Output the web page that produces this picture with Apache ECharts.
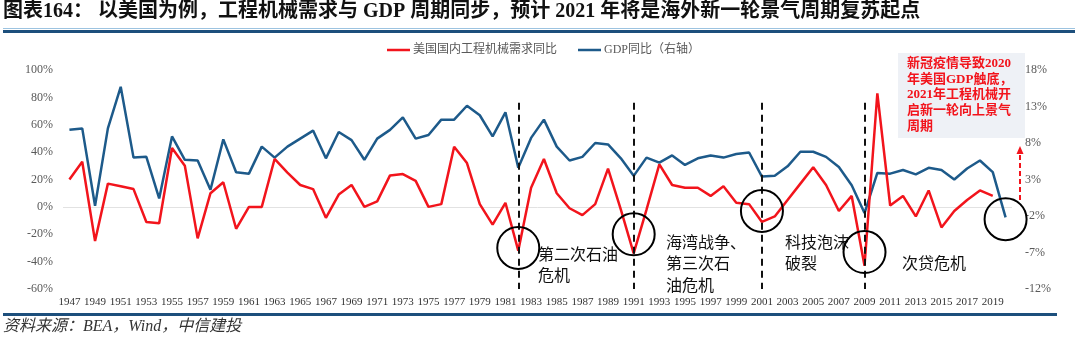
<!DOCTYPE html>
<html>
<head>
<meta charset="utf-8">
<title>工程机械需求与GDP周期</title>
<script src="https://cdn.jsdelivr.net/npm/echarts@6/dist/echarts.min.js"></script>
<style>
  html, body { margin: 0; padding: 0; background: #ffffff; }
  #chart { width: 1080px; height: 345px; }
</style>
</head>
<body>
<div id="chart"></div>
<script>
// Years on the category axis
const years = [
  '1947','1948','1949',
  '1950','1951','1952','1953','1954','1955','1956','1957','1958','1959',
  '1960','1961','1962','1963','1964','1965','1966','1967','1968','1969',
  '1970','1971','1972','1973','1974','1975','1976','1977','1978','1979',
  '1980','1981','1982','1983','1984','1985','1986','1987','1988','1989',
  '1990','1991','1992','1993','1994','1995','1996','1997','1998','1999',
  '2000','2001','2002','2003','2004','2005','2006','2007','2008','2009',
  '2010','2011','2012','2013','2014','2015','2016','2017','2018','2019',
  '2020'
];

// US domestic construction machinery demand, YoY %, 1947-2019 (left axis)
const machineryDemand = [
  20, 33, -25,
  17, 15, 13, -11, -12, 43, 30, -23, 10, 18,
  -16, 0, 0, 35, 25, 16, 13, -8, 9, 16,
  0, 4, 23, 24, 19, 0, 2, 44, 32, 2,
  -13, 3, -32, 14, 35, 10, -1, -6, 2, 28,
  -2, -34, -2, 31, 16, 14, 14, 8, 15, 3,
  2, -11, -7, 5, 17, 29, 16, -3, 8, -43,
  83, 1, 8, -7, 12, -15, -3, 5, 12, 8
];

// US GDP, YoY %, 1947-2020 (right axis)
const gdpGrowth = [
  9.8, 10.0, -0.6,
  10.0, 15.7, 6.0, 6.1, 0.4, 8.9, 5.7, 5.6, 1.6, 8.5,
  4.0, 3.8, 7.5, 6.0, 7.5, 8.6, 9.7, 5.9, 9.5, 8.4,
  5.7, 8.6, 9.8, 11.5, 8.6, 9.1, 11.2, 11.2, 13.1, 11.8,
  8.9, 12.2, 4.6, 8.7, 11.2, 7.5, 5.6, 6.1, 8.0, 7.8,
  5.9, 3.5, 6.0, 5.3, 6.3, 5.0, 5.9, 6.3, 6.0, 6.5,
  6.7, 3.4, 3.5, 4.8, 6.8, 6.8, 6.1, 4.7, 2.2, -1.6,
  3.9, 3.8, 4.3, 3.7, 4.6, 4.3, 3.0, 4.5, 5.6, 4.0,
  -2.2
];

// Crisis years marked with a dashed vertical line
const crisisYears = ['1982', '1991', '2001', '2009'];
// Circled troughs: [year, left-axis value at the circle centre]
const troughMarks = [['1982', -30], ['1991', -20], ['2001', -3], ['2009', -33], ['2020', -9]];

const seriesNames = ['美国国内工程机械需求同比', 'GDP同比（右轴）'];

const RED = '#f2141c';
const BLUE = '#1d5a8a';
const SERIF = '"Liberation Serif", "Noto Sans CJK SC", serif';
const CJK = '"Noto Sans CJK SC", "Liberation Serif", sans-serif';

const chart = echarts.init(document.getElementById('chart'), null, { renderer: 'canvas' });

const option = {
  animation: false,
  backgroundColor: '#ffffff',
  textStyle: { fontFamily: SERIF },
  grid: { left: 63, right: 68, top: 70, bottom: 56, containLabel: false },
  legend: {
    data: seriesNames,
    left: 382,
    top: 39,
    icon: 'rect',
    itemWidth: 23,
    itemHeight: 2.5,
    itemGap: 21,
    textStyle: { fontFamily: SERIF, fontSize: 12, color: '#595959', padding: [0, 0, 0, -2] }
  },
  xAxis: {
    type: 'category',
    data: years,
    boundaryGap: true,
    axisLine: { show: false },
    axisTick: { show: false },
    splitLine: { show: false },
    axisLabel: { interval: 1, fontFamily: SERIF, fontSize: 11, color: '#333333', margin: 8 }
  },
  yAxis: [
    {
      type: 'value',
      min: -60, max: 100, interval: 20,
      axisLine: { show: false },
      axisTick: { show: false },
      splitLine: { show: false },
      axisLabel: { formatter: '{value}%', fontFamily: SERIF, fontSize: 12, color: '#595959', margin: 10 }
    },
    {
      type: 'value',
      position: 'right',
      min: -12, max: 18, interval: 5,
      axisLine: { show: false },
      axisTick: { show: false },
      splitLine: { show: false },
      axisLabel: { formatter: '{value}%', fontFamily: SERIF, fontSize: 12, color: '#595959', margin: 13 }
    }
  ],
  series: [
    {
      // zero baseline, kept underneath both lines
      type: 'line',
      data: [],
      yAxisIndex: 0,
      silent: true,
      markLine: {
        z: 1,
        silent: true,
        symbol: 'none',
        label: { show: false },
        lineStyle: { color: '#e2e2e2', type: 'solid', width: 1 },
        data: [{ yAxis: 0 }]
      }
    },
    {
      name: seriesNames[0],
      type: 'line',
      data: machineryDemand,
      yAxisIndex: 0,
      symbol: 'none',
      color: RED,
      lineStyle: { color: RED, width: 2.5 },
      z: 3,
      markLine: {
        silent: true,
        symbol: 'none',
        label: { show: false },
        lineStyle: { color: '#111111', type: [7, 5], width: 2 },
        data: crisisYears.map(y => [{ coord: [y, 76] }, { coord: [y, -60] }])
      },
      markPoint: {
        silent: true,
        symbol: 'circle',
        symbolSize: 42,
        label: { show: false },
        itemStyle: { color: 'rgba(0,0,0,0)', borderColor: '#000000', borderWidth: 2 },
        data: troughMarks.map(m => ({ coord: m }))
      }
    },
    {
      name: seriesNames[1],
      type: 'line',
      data: gdpGrowth,
      yAxisIndex: 1,
      symbol: 'none',
      color: BLUE,
      lineStyle: { color: BLUE, width: 2.5 },
      z: 2
    }
  ],
  graphic: [
    {
      type: 'text', left: 3, top: 2,
      style: {
        text: '图表164： 以美国为例，工程机械需求与 GDP 周期同步，预计 2021 年将是海外新一轮景气周期复苏起点',
        fontFamily: SERIF, fontSize: 20, fontWeight: 'bold', fill: '#111111'
      }
    },
    { type: 'rect', shape: { x: 3, y: 28, width: 1072, height: 1 }, style: { fill: '#9cc3e0' } },
    { type: 'rect', shape: { x: 3, y: 30, width: 1072, height: 3 }, style: { fill: '#1d4f7c' } },
    { type: 'rect', shape: { x: 3, y: 313, width: 1054, height: 3 }, style: { fill: '#1d4f7c' } },
    {
      type: 'text', left: 3, top: 319,
      style: {
        text: '资料来源：BEA，Wind，中信建投',
        fontFamily: SERIF, fontSize: 16, fontStyle: 'italic', fill: '#333333'
      }
    },
    // note box
    { type: 'rect', shape: { x: 898, y: 53, width: 127, height: 85 }, style: { fill: '#eef1f6' } },
    {
      type: 'text', x: 907, y: 56,
      style: {
        text: '新冠疫情导致2020\n年美国GDP触底，\n2021年工程机械开\n启新一轮向上景气\n周期',
        fontFamily: SERIF, fontSize: 13, fontWeight: 'bold', fill: RED, lineHeight: 15.6
      }
    },
    // upward dashed arrow
    {
      type: 'line', shape: { x1: 1020, y1: 200, x2: 1020, y2: 153 },
      style: { stroke: RED, lineWidth: 2, lineDash: [5, 3] }
    },
    {
      type: 'polygon', shape: { points: [[1016.5, 154], [1023.5, 154], [1020, 146]] },
      style: { fill: RED }
    },
    // event annotations
    {
      type: 'text', x: 538, y: 243,
      style: { text: '第二次石油\n危机', fontFamily: CJK, fontSize: 16, lineHeight: 21.5, fill: '#111111' }
    },
    {
      type: 'text', x: 666, y: 231,
      style: { text: '海湾战争、\n第三次石\n油危机', fontFamily: CJK, fontSize: 16, lineHeight: 21.5, fill: '#111111' }
    },
    {
      type: 'text', x: 785, y: 231,
      style: { text: '科技泡沫\n破裂', fontFamily: CJK, fontSize: 16, lineHeight: 21.5, fill: '#111111' }
    },
    {
      type: 'text', x: 902, y: 252,
      style: { text: '次贷危机', fontFamily: CJK, fontSize: 16, lineHeight: 21.5, fill: '#111111' }
    }
  ]
};

chart.setOption(option);
</script>
</body>
</html>
